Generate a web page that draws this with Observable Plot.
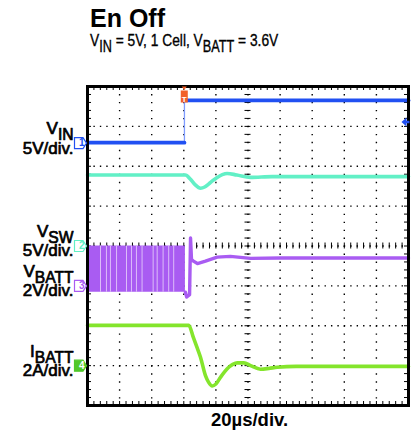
<!DOCTYPE html>
<html>
<head>
<meta charset="utf-8">
<script src="https://cdn.jsdelivr.net/npm/d3@7"></script>
<script src="https://cdn.jsdelivr.net/npm/@observablehq/plot@0.6"></script>
<style>
  body { margin: 0; background: #fff; }
  #wrap { position: relative; width: 411px; height: 441px; overflow: hidden; font-family: "Liberation Sans", Arial, Helvetica, sans-serif; color: #000; }
  #title { position: absolute; left: 90px; top: 6px; font-size: 25px; line-height: 1; font-weight: bold; white-space: nowrap; }
  #subtitle { position: absolute; left: 90px; top: 32.3px; font-size: 17px; line-height: 1; white-space: nowrap; transform: scaleX(0.81); transform-origin: 0 0; -webkit-text-stroke: 0.35px #000; }
  #subtitle .s { font-size: 0.92em; position: relative; top: 0.36em; }
  #plot { position: absolute; left: 0; top: 60px; }
</style>
</head>
<body>
<div id="wrap">
  <div id="title">En Off</div>
  <div id="subtitle">V<span class="s">IN</span> = 5V, 1 Cell, V<span class="s">BATT</span> = 3.6V</div>
  <div id="plot"></div>
</div>
<script>
// ---- data (time in µs, amplitude in screen divisions) ----
const vinLow = 2.59;
const vinHigh = 3.65;
const vinBeforeT = [-60, 0.4];
const vinBeforeV = [2.59, 2.59];
const vinAfterT = [0.4, 140];
const vinAfterV = [3.65, 3.65];

const tealTime = [-60, 1, 4, 7, 10.4, 13, 15.6, 18, 20.8, 24, 27, 33, 41.6, 55, 140];
const tealVal  = [1.78, 1.78, 1.68, 1.54, 1.45, 1.48, 1.56, 1.64, 1.72, 1.79, 1.82, 1.78, 1.72, 1.74, 1.74];

const swStart = -60, swEnd = 1.0, swHigh = 0.0, swLow = -1.16;
const swGaps = [-51.9, -48.2, -45.7, -41.9, -35.7, -32.6, -29.5, -26, -19.1, -16.6, -12.9, -9.4, -6.3];

const vbattTime = [1.0, 1.8, 3.6, 4.2, 4.8, 6, 8.5, 13.5, 20.8, 29, 41.6, 60, 140];
const vbattVal  = [-1.16, -1.28, -1.22, 0.2, -0.34, -0.38, -0.44, -0.38, -0.28, -0.26, -0.31, -0.3, -0.3];

const ibattTime = [-60, 3.1, 6, 8, 10.4, 13.5, 15.5, 17.7, 20, 22.9, 25.5, 28, 30.5, 33.3, 37.4, 41.6, 47.8, 53, 58.2, 70, 140];
const ibattVal  = [-1.99, -1.99, -2.3, -2.52, -2.79, -3.25, -3.42, -3.51, -3.46, -3.29, -3.15, -3.04, -2.97, -2.93, -2.93, -3.0, -3.09, -3.07, -3.04, -3.02, -3.02];

const channelIds   = ["1", "2", "3", "4"];
const channelLevel = [2.58, 0, -1.0, -3.0];
const labelMain    = ["V_IN", "V_SW", "V_BATT", "I_BATT"];
const labelScale   = ["5V/div.", "5V/div.", "2V/div.", "2A/div."];

const trigTime = 0.3;
const trigLevel = 3.11;
const xLabel = "20µs/div.";

// graticule
const xDomain = [-60, 140], yDomain = [-4, 4];
const xMajor = d3.range(-40, 140, 20);
const yMajor = d3.range(-3, 4, 1);
const xMinor = d3.range(-56, 140, 4);
const yMinor = d3.range(-3.8, 3.9, 0.2);

// ---- styles ----
const cBlue = "#2150f2", cBlueEdge = "#7f9cff", cTeal = "#62f0c6", cPurple = "#a95cf2",
      cPurpleGap = "#dcbcf9", cGreen = "#84e52c", cGreenMark = "#4fc82a", cOrange = "#f2602a";
const chColors = [cBlue, cTeal, cPurple, cGreenMark];
const labelSize = 17, labelLineH = 19.3, subShift = 6;

const zip = (t, v) => t.map((d, i) => ({t: d, v: v[i]}));
const chans = channelIds.map((id, i) => ({id, level: channelLevel[i], label: labelMain[i] + "\n" + labelScale[i], color: chColors[i], filled: i === 3}));

const pentagon = {draw(ctx) { ctx.moveTo(-6, -5.5); ctx.lineTo(2.5, -5.5); ctx.lineTo(6, 0); ctx.lineTo(2.5, 5.5); ctx.lineTo(-6, 5.5); ctx.closePath(); }};
const trigSym = {draw(ctx) { ctx.rect(-3.5, -6, 7, 12); ctx.moveTo(-2.5, -10); ctx.lineTo(2.5, -10); ctx.lineTo(0, -6.5); ctx.closePath(); }};
const arrowLeft = {draw(ctx) { ctx.moveTo(-4, 0); ctx.lineTo(1, -4.5); ctx.lineTo(1, -1.2); ctx.lineTo(4, -1.2); ctx.lineTo(4, 1.2); ctx.lineTo(1, 1.2); ctx.lineTo(1, 4.5); ctx.closePath(); }};

const plot = Plot.plot({
  width: 411, height: 381,
  marginTop: 26, marginBottom: 36, marginLeft: 87, marginRight: 3,
  x: {domain: xDomain, axis: null},
  y: {domain: yDomain, axis: null},
  style: {fontFamily: "'Liberation Sans', Arial, Helvetica, sans-serif", fontSize: "17px", background: "#fff", overflow: "visible"},
  marks: [
    // graticule
    Plot.ruleX(xMajor, {stroke: "#000", strokeWidth: 1.4, strokeDasharray: "1.4,6.58"}),
    Plot.ruleY(yMajor, {stroke: "#000", strokeWidth: 1.4, strokeDasharray: "1.4,5.02"}),
    Plot.ruleY(yMinor, {x1: 40, x2: 40, insetLeft: -3, insetRight: -3, stroke: "#000", strokeWidth: 1}),
    Plot.ruleX(xMinor, {y1: 0, y2: 0, insetTop: -3, insetBottom: -3, stroke: "#000", strokeWidth: 1}),
    Plot.ruleX(xMinor, {y1: 4, y2: 4, insetBottom: -4, stroke: "#000", strokeWidth: 1}),
    Plot.ruleX(xMinor, {y1: -4, y2: -4, insetTop: -4, stroke: "#000", strokeWidth: 1}),
    Plot.ruleY(yMinor, {x1: -60, x2: -60, insetRight: -4, stroke: "#000", strokeWidth: 1}),
    Plot.ruleY(yMinor, {x1: 140, x2: 140, insetLeft: -4, stroke: "#000", strokeWidth: 1}),
    // teal trace
    Plot.line(zip(tealTime, tealVal), {x: "t", y: "v", stroke: cTeal, strokeWidth: 3.6, curve: "monotone-x"}),
    // VIN
    Plot.ruleX([trigTime + 0.1], {y1: vinLow, y2: vinHigh, stroke: cBlueEdge, strokeWidth: 1.3}),
    Plot.line(zip(vinBeforeT, vinBeforeV), {x: "t", y: "v", stroke: cBlue, strokeWidth: 3.8}),
    Plot.line(zip(vinAfterT, vinAfterV), {x: "t", y: "v", stroke: cBlue, strokeWidth: 3.8}),
    // VBATT switching block
    Plot.rect([{x1: swStart, x2: swEnd, y1: swLow, y2: swHigh}], {x1: "x1", x2: "x2", y1: "y1", y2: "y2", fill: cPurple}),
    Plot.ruleX(swGaps, {y1: swLow, y2: swHigh, stroke: cPurpleGap, strokeWidth: 1}),
    Plot.line(zip(vbattTime, vbattVal), {x: "t", y: "v", stroke: cPurple, strokeWidth: 3.4}),
    // IBATT
    Plot.line(zip(ibattTime, ibattVal), {x: "t", y: "v", stroke: cGreen, strokeWidth: 3.6, curve: "monotone-x"}),
    // frame
    Plot.frame({stroke: "#000", strokeWidth: 3}),
    // channel markers
    Plot.dot(chans, {y: "level", frameAnchor: "left", dx: -7, symbol: pentagon, r: 5, fill: d => d.filled ? d.color : "#fff", stroke: "color", strokeWidth: 1.2}),
    Plot.text(chans, {y: "level", text: "id", frameAnchor: "left", dx: -8.5, fontSize: 10, fill: d => d.filled ? "#fff" : d.color, fontWeight: "bold"}),
    // left labels (two lines each)
    Plot.text(chans, {y: "level", text: "label", frameAnchor: "left", textAnchor: "end", lineAnchor: "middle",
      lineHeight: labelLineH / labelSize, dx: -14, dy: -5.35, fontSize: labelSize, fill: "#000", stroke: "#000", strokeWidth: 0.7}),
    // trigger markers
    Plot.dot([trigTime], {x: d => d, frameAnchor: "top", dy: 10, symbol: trigSym, r: 5, fill: cOrange}),
    Plot.text([trigTime], {x: d => d, text: () => "T", frameAnchor: "top", dy: 10, fontSize: 8, fill: "#fff", fontWeight: "bold"}),
    Plot.dot([trigLevel], {y: d => d, frameAnchor: "right", dx: -3, symbol: arrowLeft, r: 5, fill: cBlue}),
    // x label
    Plot.text([xLabel], {frameAnchor: "bottom", dy: 20.5, dx: 1.5, fontSize: 18.5, fontWeight: "bold", fill: "#000"})
  ]
});

// subscripts: "V_IN" -> V + lowered IN (next line compensated)
d3.select(plot).selectAll("tspan").each(function () {
  const t = this.textContent;
  if (t.includes("_") && this.childElementCount === 0) {
    const [a, b] = t.split("_");
    this.textContent = a;
    d3.select(this).append("tspan").attr("font-size", "0.92em").attr("dy", subShift).text(b);
    const next = this.nextElementSibling;
    if (next) next.setAttribute("dy", labelLineH - subShift);
  }
});
document.getElementById("plot").appendChild(plot);
</script>
</body>
</html>
